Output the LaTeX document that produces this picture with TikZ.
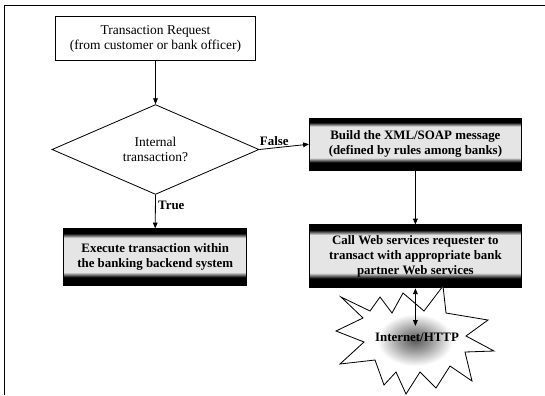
\documentclass[tikz,border=0pt]{standalone}
\usepackage{fontspec}
\setmainfont{Liberation Serif}
\usetikzlibrary{shapes.geometric,arrows.meta}

% dark top and bottom, light middle, as in the scanned boxes
\pgfdeclareverticalshading{bankbar}{100bp}{color(0bp)=(black); color(32.5bp)=(black); color(37bp)=(black!10); color(67bp)=(black!10); color(71bp)=(black); color(100bp)=(black)}
% dark spot in the middle of the burst
\pgfdeclareradialshading{netburst}{\pgfpoint{0bp}{0bp}}{color(0bp)=(black!65); color(5bp)=(black!40); color(12bp)=(white); color(50bp)=(white)}

\tikzset{
	plainbox/.style={draw, rectangle, align=center, inner sep=2pt, font=\fontsize{11.5}{13}\selectfont},
	barbox/.style={plainbox, shading=bankbar, font=\bfseries\fontsize{11}{13}\selectfont},
	flow/.style={-{Triangle[length=5pt,width=4pt]}},
	twoway/.style={{Triangle[length=5pt,width=4pt]}-{Triangle[length=5pt,width=4pt]}},
	flowlabel/.style={font=\bfseries\fontsize{11}{13}\selectfont, inner sep=2pt}
}

\begin{document}
\begin{tikzpicture}[x=0.03cm,y=-0.03cm,line width=0.7pt]
	\useasboundingbox (0,0) rectangle (545,395);

	% edge of the page
	\draw[line width=0.6pt] (4,395) -- (4,5) -- (545,5);

	% request and test
	\node[plainbox, minimum width=6cm, minimum height=1.32cm] (req) at (155.5,38.7) {Transaction Request\\(from customer or bank officer)};
	\node[draw, diamond, minimum width=6.21cm, minimum height=2.61cm, inner sep=0pt, align=center, font=\fontsize{11.5}{13}\selectfont] (test) at (155.5,149.5) {Internal\\transaction?};

	% the two branches
	\node[barbox, minimum width=6.36cm, minimum height=1.56cm] (build) at (415.4,144.2) {Build the XML/SOAP message\\(defined by rules among banks)};
	\node[barbox, minimum width=5.49cm, minimum height=1.71cm] (exec) at (155.2,257.3) {Execute transaction within\\the banking backend system};
	\node[barbox, minimum width=6.36cm, minimum height=1.89cm] (call) at (415.4,256.4) {Call Web services requester to\\transact with appropriate bank\\partner Web services};

	% the Internet burst
	\draw[shading=netburst] (341,297) -- (370,311) -- (380,297) -- (392,313) -- (403,293) -- (424,311)
		-- (443,286) -- (446,313) -- (488,320) -- (466,336) -- (494,351) -- (465,352)
		-- (472,381) -- (450,366) -- (436,388) -- (420,372) -- (406,394) -- (396,372)
		-- (384,385) -- (375,360) -- (340,364) -- (364,342) -- (336,331) -- (363,318) -- cycle;
	\node[flowlabel] (net) at (417,337) {Internet/HTTP};
	\coordinate (netend) at (415.4,326);

	\draw[flow] (req) -- (test);
	\draw[flow] (test.east) -- node[flowlabel, above, pos=0.3] {False} (build.west);
	\draw[flow] (test.south) -- node[flowlabel, right, pos=0.3] {True} (exec.north);
	\draw[flow] (build) -- (call);
	\draw[twoway] (call.south) -- (netend);
\end{tikzpicture}
\end{document}
